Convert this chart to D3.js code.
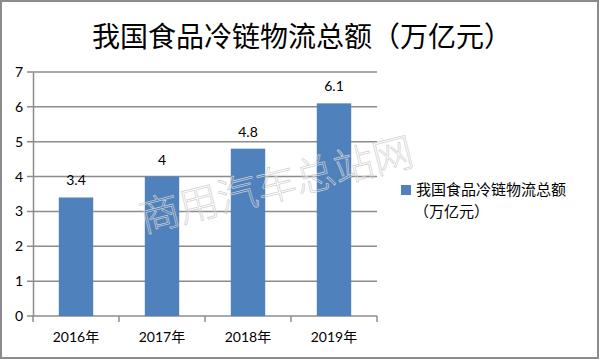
<!DOCTYPE html>
<html>
<head>
<meta charset="utf-8">
<script src="https://cdn.jsdelivr.net/npm/d3@7"></script>
<style>
  body { margin: 0; background: #fff; }
  .tick text { font-family: Lato, "Noto Sans CJK SC", sans-serif; }
</style>
</head>
<body>
<div id="graph"></div>
<script>
let years = ["2016年", "2017年", "2018年", "2019年"];
let values = [3.4, 4, 4.8, 6.1];
let yTicks = [0, 1, 2, 3, 4, 5, 6, 7];
let title = "我国食品冷链物流总额（万亿元）";
let seriesName = ["我国食品冷链物流总额", "（万亿元）"];
let watermark = "商用汽车总站网";

function graph() {
  let w = 600;
  let h = 360;
  let left = 33, right = 377, top = 72, bottom = 316;
  let gridColor = "#8c8c8c";
  let barColor = "#4f81bd";

  const svg = d3.select("#graph")
                .append("svg")
                .attr("width", w)
                .attr("height", h);

  // outer frame
  svg.append("rect")
     .attr("x", 1)
     .attr("y", 1)
     .attr("width", w - 3)
     .attr("height", h - 3)
     .attr("fill", "#fff")
     .attr("stroke", "#8c8c8c")
     .attr("stroke-width", 2);

  svg.append("text")
     .attr("x", 302)
     .attr("y", 47)
     .attr("text-anchor", "middle")
     .style("font-family", "'Noto Sans CJK SC', sans-serif")
     .style("font-size", "28px")
     .style("font-weight", "400")
     .style("fill", "#000")
     .text(title);

  const xScale = d3.scaleBand()
                   .domain(years)
                   .range([left, right])
                   .paddingInner(0.6)
                   .paddingOuter(0.3);

  const yScale = d3.scaleLinear()
                   .domain([0, 7])
                   .range([bottom, top]);

  // gridlines
  svg.append("g")
     .selectAll("line")
     .data(yTicks)
     .enter()
     .append("line")
     .attr("x1", left - 6)
     .attr("x2", right)
     .attr("y1", d => yScale(d))
     .attr("y2", d => yScale(d))
     .attr("stroke", gridColor)
     .attr("stroke-width", 1.5);

  const yAxis = d3.axisLeft()
                  .scale(yScale)
                  .tickValues(yTicks)
                  .tickSize(0)
                  .tickPadding(10)
                  .tickFormat(d => d);

  const gy = svg.append("g")
     .attr("id", "y-axis")
     .attr("transform", `translate(${left}, 0)`)
     .call(yAxis);
  gy.select(".domain").attr("stroke", gridColor).attr("stroke-width", 1.5);
  gy.selectAll(".tick text").style("font-size", "14px").style("fill", "#000");

  // x axis ticks at category boundaries
  let step = (right - left) / years.length;
  let bounds = d3.range(years.length + 1).map(i => left + i * step);
  svg.append("g")
     .selectAll("line")
     .data(bounds)
     .enter()
     .append("line")
     .attr("x1", d => d)
     .attr("x2", d => d)
     .attr("y1", bottom)
     .attr("y2", bottom + 6)
     .attr("stroke", gridColor)
     .attr("stroke-width", 1.5);

  svg.append("g")
     .selectAll("text")
     .data(years)
     .enter()
     .append("text")
     .attr("x", d => xScale(d) + xScale.bandwidth() / 2)
     .attr("y", 342)
     .attr("text-anchor", "middle")
     .style("font-family", "Lato, 'Noto Sans CJK SC', sans-serif")
     .style("font-size", "14px")
     .text(d => d);

  svg.selectAll("rect.bar")
     .data(values)
     .enter()
     .append("rect")
     .attr("class", "bar")
     .attr("x", (d, i) => xScale(years[i]))
     .attr("y", d => yScale(d))
     .attr("width", xScale.bandwidth())
     .attr("height", d => bottom - yScale(d))
     .attr("fill", barColor);

  svg.selectAll("text.val")
     .data(values)
     .enter()
     .append("text")
     .attr("class", "val")
     .attr("x", (d, i) => xScale(years[i]) + xScale.bandwidth() / 2)
     .attr("y", d => yScale(d) - 12)
     .attr("text-anchor", "middle")
     .style("font-family", "Lato, sans-serif")
     .style("font-size", "14px")
     .text(d => d);

  // legend
  const legend = svg.append("g").attr("id", "legend");
  legend.append("rect")
        .attr("x", 401)
        .attr("y", 185)
        .attr("width", 10)
        .attr("height", 10)
        .attr("fill", barColor);
  legend.selectAll("text")
        .data(seriesName)
        .enter()
        .append("text")
        .attr("x", (d, i) => i ? 414 : 416)
        .attr("y", (d, i) => 195 + i * 22)
        .style("font-family", "'Noto Sans CJK SC', sans-serif")
        .style("font-size", "15px")
        .text(d => d);

  // watermark
  svg.append("text")
     .attr("transform", "translate(277, 188) rotate(-14)")
     .attr("text-anchor", "middle")
     .attr("dominant-baseline", "middle")
     .style("font-family", "'Noto Sans CJK SC', sans-serif")
     .style("font-size", "40px")
     .style("font-weight", "300")
     .style("fill", "none")
     .style("stroke", "#d0d0d0")
     .style("stroke-width", 0.7)
     .text(watermark);
}

graph();
</script>
</body>
</html>
